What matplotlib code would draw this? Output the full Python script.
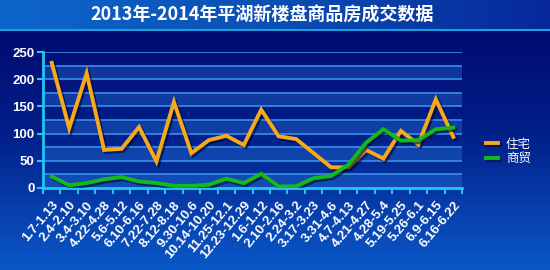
import matplotlib
matplotlib.use("Agg")
import matplotlib.pyplot as plt
import matplotlib.patheffects as pe
import numpy as np
from matplotlib.colors import LinearSegmentedColormap

plt.rcParams['font.family'] = ['Noto Sans CJK SC', 'DejaVu Sans']

title = "2013年-2014年平湖新楼盘商品房成交数据"
weeks = ["1.7-1.13", "2.4-2.10", "3.4-3.10", "4.22-4.28", "5.6-5.12", "6.10-6.16",
         "7.22-7.28", "8.12-8.18", "9.30-10.6", "10.14-10.20", "11.25-12.1",
         "12.23-12.29", "1.6-1.12", "2.10-2.16", "2.24-3.2", "3.17-3.23",
         "3.31-4.6", "4.7-4.13", "4.21-4.27", "4.28-5.4", "5.19-5.25",
         "5.26-6.1", "6.9-6.15", "6.16-6.22"]
housing = [230, 110, 211, 70, 72, 112, 49, 158, 64, 88, 96, 79,
           144, 95, 90, 64, 38, 38, 70, 54, 105, 80, 163, 94]
commerce = [21, 5, 9, 16, 20, 12, 9, 4, 4, 6, 17, 9,
            26, 3, 3, 18, 22, 43, 83, 108, 87, 88, 108, 111]

fig = plt.figure(figsize=(5.5, 2.7), dpi=100)

# background gradient
bg = fig.add_axes([0, 0, 1, 1], zorder=-2)
bg.set_axis_off()
cmap = LinearSegmentedColormap.from_list("bg", ["#00056a", "#02208a", "#0a58c8"])
grad = np.linspace(0, 1, 256).reshape(-1, 1)
bg.imshow(grad, aspect="auto", cmap=cmap, extent=[0, 1, 0, 1], origin="upper")
# title bar
tcmap = LinearSegmentedColormap.from_list("tb", ["#0e66cc", "#0b4fb4", "#06289a"])
hgrad = np.linspace(0, 1, 256).reshape(1, -1)
bg.imshow(hgrad, aspect="auto", cmap=tcmap, extent=[0, 1, 1 - 29 / 270, 1])
bg.axhline(1 - 30 / 270, color="#1e9ee0", lw=1.5)
bg.set_xlim(0, 1)
bg.set_ylim(0, 1)

fig.text(0.477, 1 - 15 / 270, title, color="white", fontsize=13, fontweight="bold",
         ha="center", va="center")

ax = fig.add_axes([43 / 550, 1 - 188 / 270, 419 / 550, 136 / 270])
ax.set_facecolor("none")
x = np.arange(len(weeks))

for lo in range(0, 250, 50):
    ax.axhspan(lo, lo + 25, color="#2a7ae0", alpha=0.35, lw=0, zorder=0)
for g in range(25, 251, 25):
    ax.axhline(g, color="#3a8ee8", lw=1.2, zorder=1)

shadow = [pe.SimpleLineShadow(offset=(1.5, -1.5), shadow_color="#000830", alpha=0.6),
          pe.Normal()]
ax.plot(x, housing, color="#f7a81b", lw=2.8, label="住宅", zorder=3,
        path_effects=shadow, solid_joinstyle="miter")
ax.plot(x, commerce, color="#16b81a", lw=2.8, label="商贸", zorder=4,
        path_effects=shadow, solid_joinstyle="miter")

ax.set_xlim(-0.5, len(weeks) - 0.5)
ax.set_ylim(0, 250)
ax.set_yticks(range(0, 251, 50))
ax.set_xticks(x)
ax.set_xticklabels(weeks, rotation=50, ha="right", va="top", rotation_mode="anchor")
ax.set_xticks(np.arange(-0.5, len(weeks)), minor=True)
ax.tick_params(axis="x", which="major", length=0, pad=8, labelsize=9.5,
               labelcolor="white")
ax.tick_params(axis="x", which="minor", length=4, width=1.5, color="#22c4f4",
               direction="out")
ax.tick_params(axis="y", length=4, width=1.5, color="#22c4f4", labelsize=9.5,
               labelcolor="white", pad=2)
for lbl in ax.get_xticklabels() + ax.get_yticklabels():
    lbl.set_fontweight("bold")
    lbl.set_family(["Liberation Sans", "DejaVu Sans"])
for s in ["top", "right"]:
    ax.spines[s].set_visible(False)
for s in ["left", "bottom"]:
    ax.spines[s].set_color("#22c4f4")
    ax.spines[s].set_linewidth(2)

leg = ax.legend(loc="center left", bbox_to_anchor=(1.03, 0.27), frameon=False,
                handlelength=1.0, handletextpad=0.6, labelspacing=0.1, fontsize=9)
for t in leg.get_texts():
    t.set_color("white")

fig.savefig("out.png", dpi=100)
